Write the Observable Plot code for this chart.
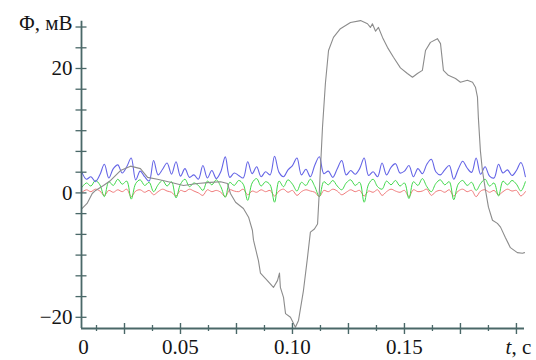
<!DOCTYPE html>
<html><head><meta charset="utf-8">
<script src="https://cdn.jsdelivr.net/npm/d3@7"></script>
<script src="https://cdn.jsdelivr.net/npm/@observablehq/plot@0.6"></script>
<style>
html,body{margin:0;padding:0;background:#fff;}
#chart{width:536px;height:360px;}
#chart svg, #chart svg text{font-family:"Liberation Serif","DejaVu Serif","Times New Roman",serif !important;}
</style></head><body><div id="chart"></div>
<script>
// Main (gray) trace: time, s and Φ, mV
const grayT = [0.0061,0.0083,0.0106,0.0121,0.0156,0.0188,0.0232,0.0277,0.0321,0.0353,
  0.0397,0.0455,0.0513,0.0576,0.0634,0.0679,0.0710,0.0723,0.0746,0.0781,
  0.0804,0.0821,0.0826,0.0848,0.0857,0.0888,0.0915,0.0933,0.0942,0.0946,
  0.0960,0.0969,0.0991,0.1013,0.1027,0.1049,0.1067,0.1080,0.1098,0.1112,
  0.1121,0.1134,0.1147,0.1161,0.1183,0.1214,0.1259,0.1304,0.1335,0.1348,
  0.1357,0.1371,0.1384,0.1402,0.1424,0.1451,0.1482,0.1513,0.1536,0.1558,
  0.1580,0.1594,0.1616,0.1647,0.1661,0.1674,0.1696,0.1728,0.1750,0.1781,
  0.1804,0.1817,0.1826,0.1830,0.1839,0.1848,0.1862,0.1875,0.1893,0.1915,
  0.1929,0.1951,0.1973,0.2004,0.2027,0.2036];
const grayV = [-2.5,-1.7,-0.1,0.4,1.2,2.0,3.6,4.3,3.9,2.5,
  2.2,1.7,1.2,1.5,1.7,1.8,1.5,-0.1,-1.5,-2.5,
  -3.9,-6.0,-7.6,-10.9,-12.9,-14.1,-15.2,-14.1,-12.9,-15.2,
  -16.8,-19.4,-20.0,-21.6,-20.5,-15.7,-10.4,-6.3,-5.8,-5.0,
  1.0,10.5,17.6,22.9,25.0,26.4,27.4,27.7,27.2,26.6,
  27.2,26.0,26.6,25.0,23.4,21.8,20.1,19.2,18.6,19.2,
  19.7,22.9,24.2,24.8,24.0,19.7,18.9,18.4,17.8,18.1,
  17.8,17.0,15.4,12.1,6.8,3.6,0.4,-2.3,-4.4,-4.9,
  -5.5,-7.2,-8.8,-9.6,-9.7,-9.6];

// Noise traces, sampled from t = 0.006 s every 0.002 s
const noiseStart = 0.006;
const noiseStep = 0.002;
const blueV = [3.3,2.2,2.6,1.8,2.9,4.6,2.4,3.9,4.5,3.2,
  4.2,5.6,2.1,3.5,2.6,1.9,5.2,2.9,3.8,4.8,
  3.0,5.0,2.7,3.9,2.5,2.9,2.2,4.4,2.4,3.6,
  2.3,3.4,5.8,2.5,3.2,2.8,2.4,5.0,3.1,4.2,
  2.6,3.4,2.9,5.9,3.3,2.6,3.7,4.4,5.6,2.9,
  3.8,2.6,4.5,5.8,3.1,3.5,2.5,3.9,5.2,2.9,
  3.6,3.0,3.9,5.6,2.8,3.4,2.6,4.8,2.9,4.1,
  4.7,3.2,3.5,4.4,2.6,3.9,3.1,4.6,5.4,3.4,
  2.9,3.7,4.4,2.2,3.8,5.1,4.0,3.3,5.6,3.0,
  4.2,2.7,2.4,4.6,3.2,3.7,2.8,3.6,4.9,2.6];
const greenV = [0.9,1.6,1.1,2.0,1.3,-0.6,1.8,1.2,2.2,1.4,
  1.9,-1.0,1.5,2.1,1.2,1.7,0.2,1.3,2.0,1.1,
  1.8,-0.8,1.4,2.2,1.0,1.6,1.2,0.4,1.9,1.3,
  2.1,1.0,-0.7,1.7,1.2,2.0,1.4,-1.2,1.6,2.3,
  1.1,1.8,1.3,-1.5,1.9,1.0,2.1,1.4,0.3,1.7,
  1.2,2.2,1.0,-0.6,1.8,1.3,2.0,1.1,0.5,1.6,
  2.1,1.2,1.7,-1.5,1.4,2.2,1.0,0.6,1.9,1.3,
  2.0,1.1,1.6,-0.9,1.8,1.2,2.3,1.0,0.2,1.5,
  2.1,1.3,1.8,-1.1,1.4,2.0,1.2,1.7,0.4,1.5,
  2.2,1.1,1.6,-0.5,1.9,1.3,2.0,1.4,0.3,1.8];
const redV = [0.1,0.5,0.2,0.6,0.3,-0.4,0.4,0.1,0.5,0.2,
  0.6,-0.6,0.3,0.5,0.1,0.4,-0.3,0.2,0.6,0.3,
  0.1,-0.5,0.4,0.2,0.6,0.3,0.0,-0.4,0.5,0.2,
  0.4,0.1,-0.6,0.5,0.3,0.2,0.6,-0.3,0.3,0.1,
  0.5,0.2,0.4,-0.5,0.3,0.6,0.1,0.4,-0.4,0.2,
  0.5,0.3,0.1,-0.6,0.4,0.2,0.6,0.3,-0.3,0.1,
  0.5,0.2,0.4,-0.5,0.3,0.1,0.5,-0.4,0.2,0.6,
  0.3,0.1,0.4,-0.6,0.5,0.2,0.3,0.6,-0.4,0.2,
  0.4,0.1,0.5,-0.5,0.3,0.6,0.2,0.4,-0.6,0.3,
  0.5,0.1,0.4,-0.3,0.2,0.6,0.3,0.4,-0.5,0.2];

// Axes
const xDomain = [0.0058, 0.2036];
const yDomain = [-21.8, 28.2];
const yAxisTop = 27.6;
const yTicks = [-20,-16.67,-13.33,-10,-6.67,-3.33,0,3.33,6.67,10,13.33,16.67,20,23.33,26.67];
const yTickLabels = [{v: -20, label: "\u221220"}, {v: 0, label: "0"}, {v: 20, label: "20"}];
const xMinorTicks = [0.0125,0.0375,0.0625,0.0875,0.1125,0.1375,0.1625,0.1875];
const xMajorTicks = [0.025,0.05,0.075,0.1,0.125,0.15,0.175,0.2];
const xTickLabels = [{v: 0.05, label: "0.05"}, {v: 0.10, label: "0.10"}, {v: 0.15, label: "0.15"}];
const xZeroLabel = "0";
const xUnitAt = 0.2;
const xUnitVar = "t";
const xUnitRest = ", c";
const yUnitLabel = "\u03A6, \u043C\u0412";

const axisColor = "#4a6868";
const textColor = "#151515";
const font = "Liberation Serif, DejaVu Serif, serif";

const noiseRows = (vals) => vals.map((v, i) => ({t: noiseStart + i * noiseStep, v}));
const grayRows = grayT.map((t, i) => ({t, v: grayV[i]}));
const txt = {fontSize: 21, fontFamily: font, fill: textColor};

const chart = Plot.plot({
  width: 536, height: 360,
  marginLeft: 81, marginRight: 12, marginTop: 17, marginBottom: 32,
  x: {domain: xDomain, axis: null},
  y: {domain: yDomain, axis: null},
  style: {background: "white", color: textColor, fontFamily: font},
  marks: [
    Plot.line(noiseRows(redV), {x: "t", y: "v", stroke: "#f07a7a", strokeWidth: 1, curve: "catmull-rom"}),
    Plot.line(noiseRows(greenV), {x: "t", y: "v", stroke: "#3fd84a", strokeWidth: 1, curve: "catmull-rom"}),
    Plot.line(noiseRows(blueV), {x: "t", y: "v", stroke: "#6464e6", strokeWidth: 1.1, curve: "catmull-rom"}),
    Plot.line(grayRows, {x: "t", y: "v", stroke: "#8c8c8c", strokeWidth: 1.1}),
    Plot.ruleX([xDomain[0]], {y1: yDomain[0], y2: yAxisTop, stroke: axisColor, strokeWidth: 1.8}),
    Plot.ruleY([yDomain[0]], {x1: xDomain[0], x2: xDomain[1], stroke: axisColor, strokeWidth: 1.8}),
    Plot.ruleY(yTicks, {x1: xDomain[0], x2: xDomain[0], insetLeft: -5.5, insetRight: -5.5, stroke: axisColor, strokeWidth: 1.3}),
    Plot.ruleX(xMinorTicks, {y1: yDomain[0], y2: yDomain[0], insetTop: -3, insetBottom: -3, stroke: axisColor, strokeWidth: 1.3}),
    Plot.ruleX(xMajorTicks, {y1: yDomain[0], y2: yDomain[0], insetTop: -5, insetBottom: -6, stroke: axisColor, strokeWidth: 1.4}),
    Plot.text(yTickLabels, {x: xDomain[0], y: "v", text: "label", textAnchor: "end", dx: -9, ...txt}),
    Plot.text(xTickLabels, {x: "v", y: yDomain[0], text: "label", dy: 19, ...txt}),
    Plot.text([xZeroLabel], {x: xDomain[0], y: yDomain[0], text: (d) => d, dx: 2, dy: 19, ...txt}),
    Plot.text([xUnitVar], {x: xUnitAt, y: yDomain[0], text: (d) => d, textAnchor: "end", dx: -5, dy: 19, fontStyle: "italic", ...txt}),
    Plot.text([xUnitRest], {x: xUnitAt, y: yDomain[0], text: (d) => d, textAnchor: "start", dx: -5, dy: 19, ...txt}),
    Plot.text([yUnitLabel], {x: xDomain[0], y: yAxisTop, text: (d) => d, textAnchor: "end", dx: -9, dy: 2, ...txt})
  ]
});
document.getElementById("chart").appendChild(chart);
</script>
</body></html>
